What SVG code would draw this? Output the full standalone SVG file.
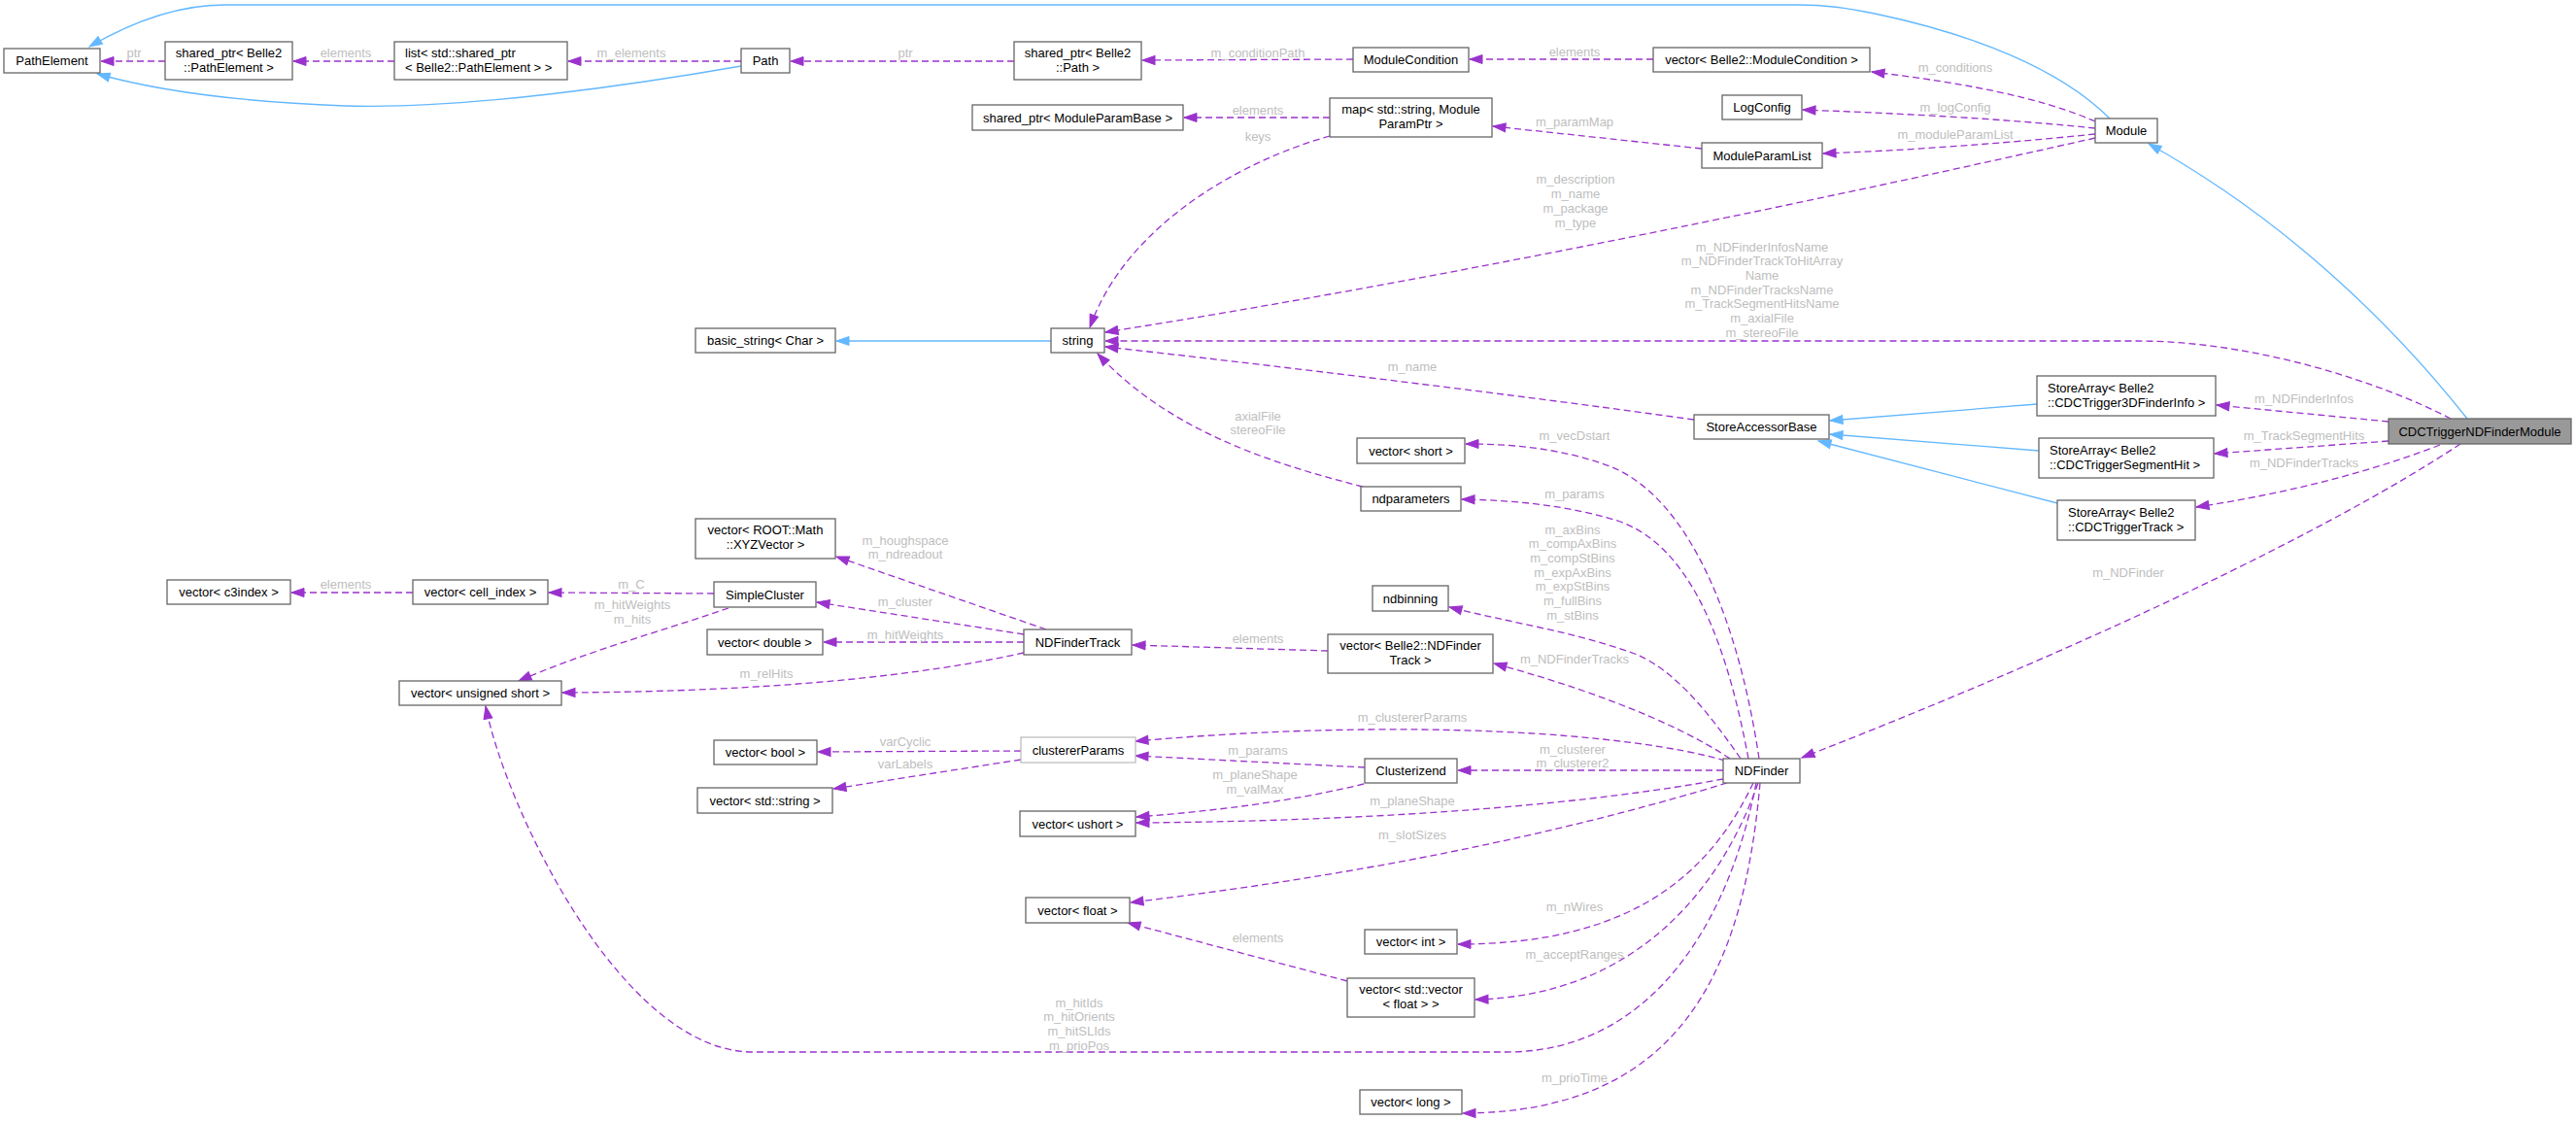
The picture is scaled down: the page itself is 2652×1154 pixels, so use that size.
<svg xmlns="http://www.w3.org/2000/svg" width="2652" height="1154" viewBox="0 0 2652 1154">
<style>
.node rect{fill:#ffffff;stroke:#666666;stroke-width:1.3}
.focus rect{fill:#999999}
.nodoc rect{stroke:#bfbfbf}
text{font-family:"Liberation Sans",Arial,sans-serif;font-size:13px;fill:#000000}
.c{text-anchor:middle}
.lbl{fill:#bebebe;text-anchor:middle}
.use{fill:none;stroke:#9a32cd;stroke-width:1.3;stroke-dasharray:7,4;marker-end:url(#ap)}
.inh{fill:none;stroke:#63b8ff;stroke-width:1.3;marker-end:url(#ab)}
</style>
<defs>
<marker id="ap" markerUnits="userSpaceOnUse" viewBox="0 0 14 10" markerWidth="14" markerHeight="10" refX="13" refY="5" orient="auto" overflow="visible"><path d="M0,0.5 L13,5 L0,9.5 z" fill="#9a32cd" stroke="#9a32cd" stroke-width="1"/></marker>
<marker id="ab" markerUnits="userSpaceOnUse" viewBox="0 0 14 10" markerWidth="14" markerHeight="10" refX="13" refY="5" orient="auto" overflow="visible"><path d="M0,0.5 L13,5 L0,9.5 z" fill="#63b8ff" stroke="#63b8ff" stroke-width="1"/></marker>
</defs>
<rect width="2652" height="1154" fill="#ffffff"/>
<g id="connectors">
<path class="inh" d="M763,68 C660,86 480,113 355,109 C250,105 160,93 100,76"/>
<path class="inh" d="M2172,122 C2120,70 2030,35 1930,14 C1900,8 1880,5 1850,5 L231,5 C180,5 130,26 92,48"/>
<path class="inh" d="M2540,431 C2460,330 2350,225 2212,148"/>
<path class="inh" d="M2097,416 L1884,433"/>
<path class="inh" d="M2099,464 L1884,447"/>
<path class="inh" d="M2118,518 L1872,454"/>
<path class="inh" d="M1082,351 L861,351"/>

<path class="use" d="M170,63 L104,63"/>
<path class="use" d="M406,63 L302,63"/>
<path class="use" d="M763,63 L585,63"/>
<path class="use" d="M1044,63 L814,63"/>
<path class="use" d="M1393,61 L1176,62"/>
<path class="use" d="M1702,61 L1513,61"/>
<path class="use" d="M2157,125 C2100,100 2020,85 1927,74"/>
<path class="use" d="M2157,132 C2060,122 1960,117 1856,113"/>
<path class="use" d="M2157,138 C2060,148 1960,155 1877,158"/>
<path class="use" d="M2157,142 C1900,200 1500,285 1138,342"/>
<path class="use" d="M1752,153 L1537,130"/>
<path class="use" d="M1369,121 L1219,121"/>
<path class="use" d="M1369,140 C1280,165 1160,230 1122,337"/>
<path class="use" d="M2523,431 C2450,393 2320,351 2200,351 L1138,351"/>
<path class="use" d="M1744,432 C1550,405 1300,375 1138,357"/>
<path class="use" d="M2459,434 L2282,417"/>
<path class="use" d="M2459,454 L2280,467"/>
<path class="use" d="M2512,458 C2430,490 2340,510 2261,522"/>
<path class="use" d="M2533,457 C2400,545 2150,665 1855,780"/>
<path class="use" d="M1811,781 C1790,640 1740,515 1660,481 C1610,462 1560,457 1509,457"/>
<path class="use" d="M1800,781 C1780,675 1745,560 1662,535 C1610,520 1560,515 1505,514"/>
<path class="use" d="M1403,501 C1300,475 1200,440 1130,364"/>
<path class="use" d="M1792,781 C1760,735 1725,690 1683,673 C1620,650 1550,640 1492,625"/>
<path class="use" d="M1781,781 C1720,740 1620,705 1538,683"/>
<path class="use" d="M1367,670 L1166,664"/>
<path class="use" d="M1077,648 L861,573"/>
<path class="use" d="M1054,653 L841,620"/>
<path class="use" d="M1054,661 L848,661"/>
<path class="use" d="M1054,672 C950,695 800,712 579,713"/>
<path class="use" d="M735,611 L565,610"/>
<path class="use" d="M750,626 C680,650 600,672 534,701"/>
<path class="use" d="M425,610 L300,610"/>
<path class="use" d="M1808,806 C1780,950 1700,1083 1551,1083 L775,1083 C640,1083 520,830 500,727"/>
<path class="use" d="M1776,783 C1680,755 1450,738 1169,763"/>
<path class="use" d="M1405,790 L1169,778"/>
<path class="use" d="M1051,773 L842,774"/>
<path class="use" d="M1051,782 L858,812"/>
<path class="use" d="M1774,793 L1501,793"/>
<path class="use" d="M1404,807 C1330,825 1250,835 1170,841"/>
<path class="use" d="M1774,802 C1650,825 1450,845 1170,847"/>
<path class="use" d="M1778,806 C1650,845 1450,895 1164,929"/>
<path class="use" d="M1387,1010 L1161,950"/>
<path class="use" d="M1805,806 C1760,900 1680,972 1501,972"/>
<path class="use" d="M1810,806 C1770,920 1680,1025 1519,1029"/>
<path class="use" d="M1812,806 C1795,1000 1730,1145 1506,1146"/>

<text class="lbl" x="138" y="58.5">ptr</text>
<text class="lbl" x="356" y="58.5">elements</text>
<text class="lbl" x="650" y="58.5">m_elements</text>
<text class="lbl" x="932" y="58.5">ptr</text>
<text class="lbl" x="1295" y="58.5">m_conditionPath</text>
<text class="lbl" x="1621" y="57.5">elements</text>
<text class="lbl" x="2013" y="73.5">m_conditions</text>
<text class="lbl" x="2013" y="114.5">m_logConfig</text>
<text class="lbl" x="2013" y="142.5">m_moduleParamList</text>
<text class="lbl" x="1622" y="188.5">m_description</text>
<text class="lbl" x="1622" y="203.5">m_name</text>
<text class="lbl" x="1622" y="218.5">m_package</text>
<text class="lbl" x="1622" y="233.5">m_type</text>
<text class="lbl" x="1621" y="129.5">m_paramMap</text>
<text class="lbl" x="1295" y="117.5">elements</text>
<text class="lbl" x="1295" y="144.5">keys</text>
<text class="lbl" x="1814" y="258.5">m_NDFinderInfosName</text>
<text class="lbl" x="1814" y="273.2">m_NDFinderTrackToHitArray</text>
<text class="lbl" x="1814" y="287.9">Name</text>
<text class="lbl" x="1814" y="302.6">m_NDFinderTracksName</text>
<text class="lbl" x="1814" y="317.3">m_TrackSegmentHitsName</text>
<text class="lbl" x="1814" y="332">m_axialFile</text>
<text class="lbl" x="1814" y="346.7">m_stereoFile</text>
<text class="lbl" x="1454" y="381.5">m_name</text>
<text class="lbl" x="2372" y="414.5">m_NDFinderInfos</text>
<text class="lbl" x="2372" y="452.5">m_TrackSegmentHits</text>
<text class="lbl" x="2372" y="480.5">m_NDFinderTracks</text>
<text class="lbl" x="2191" y="593.5">m_NDFinder</text>
<text class="lbl" x="1621" y="452.5">m_vecDstart</text>
<text class="lbl" x="1621" y="512.5">m_params</text>
<text class="lbl" x="1295" y="432.5">axialFile</text>
<text class="lbl" x="1295" y="446.5">stereoFile</text>
<text class="lbl" x="1619" y="549.5">m_axBins</text>
<text class="lbl" x="1619" y="564.2">m_compAxBins</text>
<text class="lbl" x="1619" y="578.9">m_compStBins</text>
<text class="lbl" x="1619" y="593.6">m_expAxBins</text>
<text class="lbl" x="1619" y="608.3">m_expStBins</text>
<text class="lbl" x="1619" y="623">m_fullBins</text>
<text class="lbl" x="1619" y="637.7">m_stBins</text>
<text class="lbl" x="1621" y="682.5">m_NDFinderTracks</text>
<text class="lbl" x="1295" y="661.5">elements</text>
<text class="lbl" x="932" y="560.5">m_houghspace</text>
<text class="lbl" x="932" y="574.5">m_ndreadout</text>
<text class="lbl" x="932" y="623.5">m_cluster</text>
<text class="lbl" x="932" y="657.5">m_hitWeights</text>
<text class="lbl" x="789" y="697.5">m_relHits</text>
<text class="lbl" x="650" y="605.5">m_C</text>
<text class="lbl" x="651" y="626.5">m_hitWeights</text>
<text class="lbl" x="651" y="641.5">m_hits</text>
<text class="lbl" x="356" y="605.5">elements</text>
<text class="lbl" x="1111" y="1036.5">m_hitIds</text>
<text class="lbl" x="1111" y="1051">m_hitOrients</text>
<text class="lbl" x="1111" y="1065.5">m_hitSLIds</text>
<text class="lbl" x="1111" y="1080.5">m_prioPos</text>
<text class="lbl" x="1454" y="742.5">m_clustererParams</text>
<text class="lbl" x="1295" y="776.5">m_params</text>
<text class="lbl" x="932" y="767.5">varCyclic</text>
<text class="lbl" x="932" y="790.5">varLabels</text>
<text class="lbl" x="1619" y="775.5">m_clusterer</text>
<text class="lbl" x="1619" y="789.5">m_clusterer2</text>
<text class="lbl" x="1292" y="801.5">m_planeShape</text>
<text class="lbl" x="1292" y="816.5">m_valMax</text>
<text class="lbl" x="1454" y="828.5">m_planeShape</text>
<text class="lbl" x="1454" y="863.5">m_slotSizes</text>
<text class="lbl" x="1295" y="969.5">elements</text>
<text class="lbl" x="1621" y="937.5">m_nWires</text>
<text class="lbl" x="1621" y="986.5">m_acceptRanges</text>
<text class="lbl" x="1621" y="1113.5">m_prioTime</text>
</g>

<g id="PathElement" class="node"><rect x="4" y="50" width="99" height="25"/><text class="c" x="53.5" y="67">PathElement</text></g>
<g id="shared_ptr_PathElement" class="node"><rect x="170" y="43" width="131" height="39"/><text class="c" x="235.5" y="59">shared_ptr&lt; Belle2</text><text class="c" x="235.5" y="74">::PathElement &gt;</text></g>
<g id="list_shared_ptr" class="node"><rect x="406" y="43" width="178" height="39"/><text x="417" y="59">list&lt; std::shared_ptr</text><text x="417" y="74">&lt; Belle2::PathElement &gt; &gt;</text></g>
<g id="Path" class="node"><rect x="763" y="50" width="50" height="25"/><text class="c" x="788" y="67">Path</text></g>
<g id="shared_ptr_Path" class="node"><rect x="1044" y="43" width="131" height="39"/><text class="c" x="1109.5" y="59">shared_ptr&lt; Belle2</text><text class="c" x="1109.5" y="74">::Path &gt;</text></g>
<g id="ModuleCondition" class="node"><rect x="1393" y="49" width="119" height="25"/><text class="c" x="1452.5" y="66">ModuleCondition</text></g>
<g id="vector_ModuleCondition" class="node"><rect x="1702" y="49" width="223" height="25"/><text class="c" x="1813.5" y="66">vector&lt; Belle2::ModuleCondition &gt;</text></g>
<g id="shared_ptr_ModuleParamBase" class="node"><rect x="1001" y="108" width="217" height="26"/><text class="c" x="1109.5" y="125.5">shared_ptr&lt; ModuleParamBase &gt;</text></g>
<g id="map_ModuleParamPtr" class="node"><rect x="1369" y="101" width="167" height="40"/><text class="c" x="1452.5" y="117">map&lt; std::string, Module</text><text class="c" x="1452.5" y="132">ParamPtr &gt;</text></g>
<g id="LogConfig" class="node"><rect x="1773" y="98" width="82" height="25"/><text class="c" x="1814" y="115">LogConfig</text></g>
<g id="ModuleParamList" class="node"><rect x="1752" y="147" width="124" height="26"/><text class="c" x="1814" y="164.5">ModuleParamList</text></g>
<g id="Module" class="node"><rect x="2157" y="122" width="64" height="25"/><text class="c" x="2189" y="139">Module</text></g>
<g id="basic_string" class="node"><rect x="716" y="338" width="144" height="25"/><text class="c" x="788" y="355">basic_string&lt; Char &gt;</text></g>
<g id="string" class="node"><rect x="1082" y="338" width="55" height="25"/><text class="c" x="1109.5" y="355">string</text></g>
<g id="StoreAccessorBase" class="node"><rect x="1744" y="427" width="139" height="25"/><text class="c" x="1813.5" y="444">StoreAccessorBase</text></g>
<g id="StoreArray_3DFinderInfo" class="node"><rect x="2097" y="387" width="184" height="41"/><text x="2108" y="404">StoreArray&lt; Belle2</text><text x="2108" y="419">::CDCTrigger3DFinderInfo &gt;</text></g>
<g id="CDCTriggerNDFinderModule" class="node focus"><rect x="2459" y="431" width="188" height="26"/><text class="c" x="2553" y="448.5">CDCTriggerNDFinderModule</text></g>
<g id="StoreArray_SegmentHit" class="node"><rect x="2099" y="451" width="180" height="41"/><text x="2110" y="468">StoreArray&lt; Belle2</text><text x="2110" y="483">::CDCTriggerSegmentHit &gt;</text></g>
<g id="StoreArray_Track" class="node"><rect x="2118" y="515" width="142" height="41"/><text x="2129" y="532">StoreArray&lt; Belle2</text><text x="2129" y="547">::CDCTriggerTrack &gt;</text></g>
<g id="vector_short" class="node"><rect x="1397" y="451" width="111" height="26"/><text class="c" x="1452.5" y="468.5">vector&lt; short &gt;</text></g>
<g id="ndparameters" class="node"><rect x="1401" y="501" width="103" height="25"/><text class="c" x="1452.5" y="518">ndparameters</text></g>
<g id="ndbinning" class="node"><rect x="1413" y="603" width="78" height="26"/><text class="c" x="1452" y="620.5">ndbinning</text></g>
<g id="vector_NDFinderTrack" class="node"><rect x="1367" y="653" width="170" height="40"/><text class="c" x="1452" y="669">vector&lt; Belle2::NDFinder</text><text class="c" x="1452" y="684">Track &gt;</text></g>
<g id="Clusterizend" class="node"><rect x="1405" y="781" width="95" height="25"/><text class="c" x="1452.5" y="798">Clusterizend</text></g>
<g id="NDFinder" class="node"><rect x="1774" y="781" width="79" height="25"/><text class="c" x="1813.5" y="798">NDFinder</text></g>
<g id="vector_int" class="node"><rect x="1405" y="957" width="95" height="25"/><text class="c" x="1452.5" y="974">vector&lt; int &gt;</text></g>
<g id="vector_vector_float" class="node"><rect x="1387" y="1007" width="131" height="40"/><text class="c" x="1452.5" y="1023">vector&lt; std::vector</text><text class="c" x="1452.5" y="1038">&lt; float &gt; &gt;</text></g>
<g id="vector_long" class="node"><rect x="1400" y="1122" width="105" height="25"/><text class="c" x="1452.5" y="1139">vector&lt; long &gt;</text></g>
<g id="vector_c3index" class="node"><rect x="172" y="597" width="127" height="25"/><text class="c" x="235.5" y="614">vector&lt; c3index &gt;</text></g>
<g id="vector_cell_index" class="node"><rect x="425" y="597" width="139" height="25"/><text class="c" x="494.5" y="614">vector&lt; cell_index &gt;</text></g>
<g id="vector_unsigned_short" class="node"><rect x="411" y="701" width="167" height="25"/><text class="c" x="494.5" y="718">vector&lt; unsigned short &gt;</text></g>
<g id="vector_XYZVector" class="node"><rect x="716" y="534" width="144" height="41"/><text class="c" x="788" y="550">vector&lt; ROOT::Math</text><text class="c" x="788" y="565">::XYZVector &gt;</text></g>
<g id="SimpleCluster" class="node"><rect x="735" y="599" width="105" height="26"/><text class="c" x="787.5" y="616.5">SimpleCluster</text></g>
<g id="vector_double" class="node"><rect x="728" y="648" width="119" height="26"/><text class="c" x="787.5" y="665.5">vector&lt; double &gt;</text></g>
<g id="NDFinderTrack" class="node"><rect x="1054" y="648" width="111" height="26"/><text class="c" x="1109.5" y="665.5">NDFinderTrack</text></g>
<g id="vector_bool" class="node"><rect x="735" y="762" width="106" height="25"/><text class="c" x="788" y="779">vector&lt; bool &gt;</text></g>
<g id="clustererParams" class="node nodoc"><rect x="1051" y="759" width="118" height="26"/><text class="c" x="1110" y="776.5">clustererParams</text></g>
<g id="vector_string" class="node"><rect x="718" y="811" width="139" height="26"/><text class="c" x="787.5" y="828.5">vector&lt; std::string &gt;</text></g>
<g id="vector_ushort" class="node"><rect x="1050" y="835" width="119" height="26"/><text class="c" x="1109.5" y="852.5">vector&lt; ushort &gt;</text></g>
<g id="vector_float" class="node"><rect x="1056" y="924" width="107" height="26"/><text class="c" x="1109.5" y="941.5">vector&lt; float &gt;</text></g>
</svg>
